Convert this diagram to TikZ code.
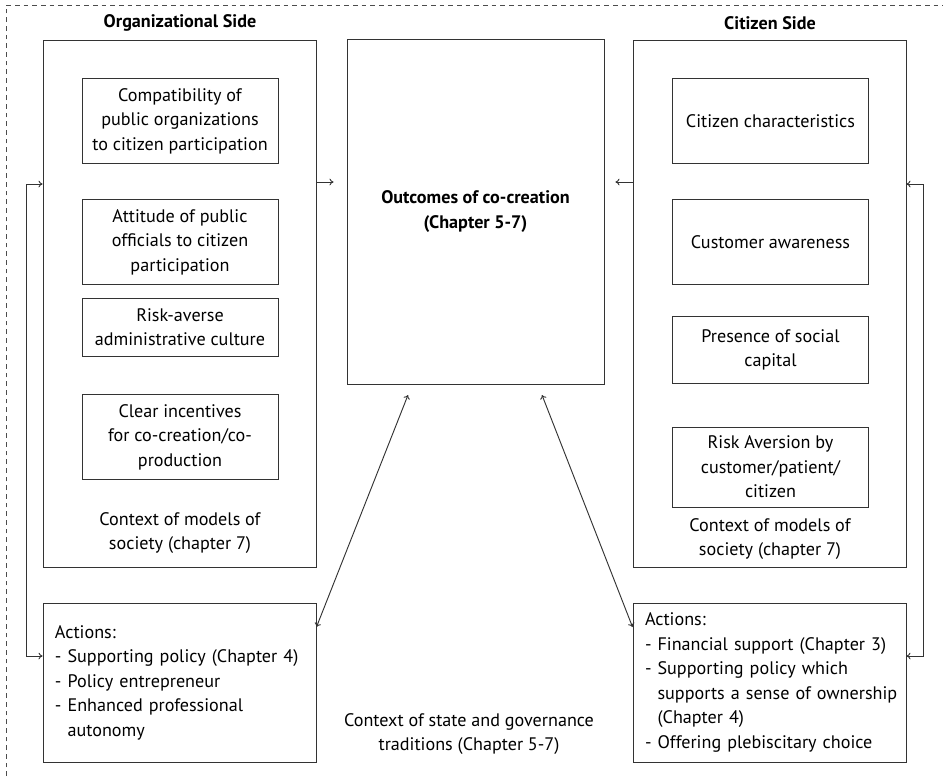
\documentclass[tikz,border=0pt]{standalone}
\usepackage{fontspec}
\setmainfont{PT Sans}
\usetikzlibrary{arrows.meta,positioning,calc}

\begin{document}
\begin{tikzpicture}[x=0.75pt, y=-0.75pt, font=\fontsize{13.6}{18.4}\selectfont,
  line/.style={draw=black!80, line width=0.7pt},
  b/.style={line, align=center, minimum width=147pt, inner sep=2pt},
  big/.style={line, minimum width=204.75pt},
  >={To[length=3pt,width=5pt]}]
\useasboundingbox (0,0) rectangle (943,776);
\draw[black!70, line width=0.5pt, dash pattern=on 3.5pt off 3pt] (6,776) -- (6,5) -- (943,5);

% the two sides
\node[font=\fontsize{13.6}{18.4}\selectfont\bfseries] (ltitle) at (180,23) {Organizational Side};
\node[font=\fontsize{13.6}{18.4}\selectfont\bfseries] (rtitle) at (770,23) {Citizen Side};
\node[big, minimum height=395.25pt] (lo) at (179.5,303.5) {};
\node[big, minimum height=395.25pt] (ro) at (769.5,303.5) {};
\foreach \n/\y/\h/\txt in {1/121/85/{Compatibility of\\public organizations\\to citizen participation},
    2/242/85/{Attitude of public\\officials to citizen\\participation},
    3/327/58/{Risk-averse\\administrative culture},
    4/437/85/{Clear incentives\\for co-creation/co-\\production}}
  \node[b, minimum height=\h*0.75pt] (l\n) at (180,\y) {\txt};
\foreach \n/\y/\h/\txt in {1/121/85/{Citizen characteristics},
    2/242/85/{Customer awareness},
    3/350/67/{Presence of social\\capital},
    4/467/80/{Risk Aversion by\\customer/patient/\\citizen}}
  \node[b, minimum height=\h*0.75pt] (r\n) at (770.5,\y) {\txt};
\node[align=center] (lctx) at (180,533) {Context of models of\\society (chapter 7)};
\node[align=center] (rctx) at (770,539) {Context of models of\\society (chapter 7)};

% outcomes
\node[line, minimum width=192.75pt, minimum height=258.75pt, align=center, font=\fontsize{13.6}{18.4}\selectfont\bfseries] (ctr) at (475.5,211.5) {Outcomes of co-creation\\(Chapter 5-7)};

% actions
\node[big, minimum height=119.25pt, text width=186.75pt, align=left] (la) at (179.5,682.5)
  {Actions:\\- Supporting policy (Chapter 4)\\- Policy entrepreneur\\- Enhanced professional\\\phantom{- }autonomy};
\node[big, minimum height=119.25pt, text width=186.75pt, align=left] (ra) at (769.5,682.5)
  {Actions:\\- Financial support (Chapter 3)\\- Supporting policy which\\\mbox{\phantom{- }supports a sense of ownership}\\\phantom{- }(Chapter 4)\\- Offering plebiscitary choice};
\node[align=center] (state) at (469,734) {Context of state and governance\\traditions (Chapter 5-7)};

% connectors
\draw[->, line, shorten >=9.75pt] (lo.east |- 0,182) -- (ctr.west |- 0,182);
\draw[->, line, shorten >=8.25pt] (ro.west |- 0,182) -- (ctr.east |- 0,182);
\draw[<->, line] (lo.west |- 0,184) -- ++(-16,0) |- (la.west |- 0,656);
\draw[<->, line] (ro.east |- 0,184) -- ++(17,0) |- (ra.east |- 0,656);
\coordinate (cl) at (408,395);
\coordinate (cr) at (542,395);
\draw[<->, line] (cl) -- (la.east |- 0,627);
\draw[<->, line] (cr) -- (ra.west |- 0,627);
\end{tikzpicture}
\end{document}
